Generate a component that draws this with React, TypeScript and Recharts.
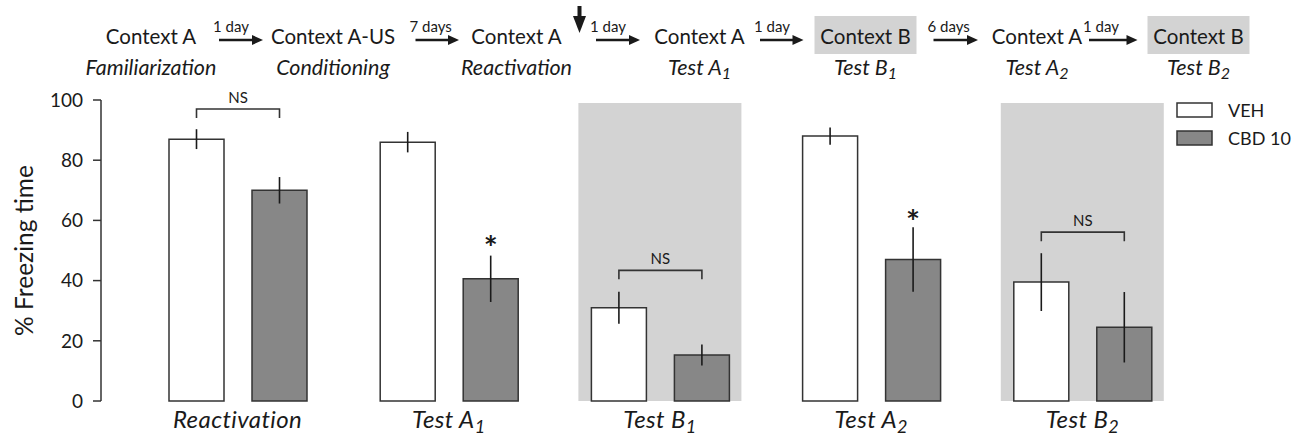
import React from 'react';
import { BarChart, Bar, XAxis, YAxis, ErrorBar, LabelList } from 'recharts';

// session tested after the reactivation
const sessions = ['Reactivation', 'Test A1', 'Test B1', 'Test A2', 'Test B2'];
const vehMeans = [87, 86, 31, 88, 39.5];
const vehErrors = [3.3, 3.4, 5.3, 2.9, 9.6];
const cbdMeans = [70, 40.6, 15.3, 47, 24.5];
const cbdErrors = [4.4, 7.7, 3.5, 10.7, 11.7];
// grey context-B panels (height in % units)
const contextBShade = [null, null, 99, null, 99];
// NS bracket level and asterisk level, in % units
const nsLevels = [97, null, 43.4, null, 56.1];
const starLevels = [null, 52.5, null, 61.2, null];
const yTicks = [0, 20, 40, 60, 80, 100];
const seriesNames = ['VEH', 'CBD 10'];

// protocol timeline above the chart
const timelineContexts = ['Context A', 'Context A-US', 'Context A', 'Context A', 'Context B', 'Context A', 'Context B'];
const timelinePhases = ['Familiarization', 'Conditioning', 'Reactivation', 'Test A1', 'Test B1', 'Test A2', 'Test B2'];
const timelineIntervals = ['1 day', '7 days', '1 day', '1 day', '6 days', '1 day'];

const rows = sessions.map((session, i) => ({
  session,
  veh: vehMeans[i],
  vehErr: vehErrors[i],
  cbd: cbdMeans[i],
  cbdErr: cbdErrors[i],
  shade: contextBShade[i],
  ns: nsLevels[i],
  star: starLevels[i],
}));

const FONT = 'Lato, "Open Sans", sans-serif';
const INK = '#1a1a1a';
const EDGE = '#333';
const CBD_FILL = '#878787';
const SHADE = '#d3d3d3';
const BAR = 55;
const GAP = 28;

// layout of the timeline (px)
const stageX = [151, 333, 516.5, 699.5, 865.5, 1037, 1198.5];
const arrowX = [
  [219, 263],
  [415.5, 459],
  [596, 640],
  [760, 803.5],
  [933.5, 978],
  [1089, 1137.5],
];
const reactivationMarkX = 579.5;

function withSub(label: string, subSize: number, drop: number) {
  const m = /^(.*?)(\d)$/.exec(label);
  if (!m) return label;
  return (
    <>
      {m[1]}
      <tspan dy={drop} fontSize={subSize}>{m[2]}</tspan>
    </>
  );
}

function SessionTick(props: any) {
  const { x, y, payload } = props;
  return (
    <text x={x} y={y + 19} textAnchor="middle" fontStyle="italic" fontSize={24} letterSpacing={0.4} fill={INK} fontFamily={FONT}>
      {withSub(payload.value, 18, 5)}
    </text>
  );
}

function pxPerUnit(vb: any, value: number) {
  return Math.abs(vb.height) / value;
}

function NsBracket(props: any) {
  const { index } = props;
  const vb = props.viewBox ?? props;
  const level = rows[index]?.ns;
  if (level == null) return null;
  const bottom = vb.y + vb.height;
  const yb = bottom - level * pxPerUnit(vb, rows[index].veh);
  const x1 = vb.x + vb.width / 2;
  const x2 = x1 + vb.width + GAP;
  return (
    <g>
      <path d={`M${x1},${yb + 9}V${yb}H${x2}V${yb + 9}`} fill="none" stroke={EDGE} strokeWidth={1.6} />
      <text x={(x1 + x2) / 2} y={yb - 6} textAnchor="middle" fontSize={15} fill={INK} fontFamily={FONT}>
        NS
      </text>
    </g>
  );
}

function Star(props: any) {
  const { index } = props;
  const vb = props.viewBox ?? props;
  const level = rows[index]?.star;
  if (level == null) return null;
  const bottom = vb.y + vb.height;
  const yc = bottom - level * pxPerUnit(vb, rows[index].cbd);
  return (
    <text x={vb.x + vb.width / 2} y={yc + 17} textAnchor="middle" fontSize={33} fontWeight={700} fill={INK} fontFamily={FONT}>
      *
    </text>
  );
}

function YLabel(props: any) {
  const vb = props.viewBox;
  const cy = vb.y + vb.height / 2;
  return (
    <text
      x={23}
      y={cy}
      transform={`rotate(-90, 23, ${cy})`}
      textAnchor="middle"
      dominantBaseline="central"
      fontSize={24.5}
      fill={INK}
      fontFamily={FONT}
    >
      % Freezing time
    </text>
  );
}

function Timeline() {
  return (
    <svg width={1306} height={90} style={{ position: 'absolute', left: 0, top: 0, pointerEvents: 'none' }}>
      {timelineContexts.map((ctx, i) => (
        <g key={i}>
          {ctx === 'Context B' && <rect x={stageX[i] - 51} y={16} width={102} height={38} fill={SHADE} />}
          <text x={stageX[i]} y={44} textAnchor="middle" fontSize={20.5} fill={INK} fontFamily={FONT}>
            {ctx}
          </text>
          <text x={stageX[i]} y={75} textAnchor="middle" fontSize={21.5} fontStyle="italic" fill={INK} fontFamily={FONT}>
            {withSub(timelinePhases[i], 16, 4)}
          </text>
        </g>
      ))}
      {timelineIntervals.map((gap, i) => {
        const [x1, x2] = arrowX[i];
        return (
          <g key={i}>
            <text x={x1 - 6} y={31.5} fontSize={15} fill={INK} fontFamily={FONT}>
              {gap}
            </text>
            <line x1={x1} y1={40} x2={x2 - 8} y2={40} stroke={INK} strokeWidth={2.6} />
            <polygon points={`${x2 - 11},35 ${x2},40 ${x2 - 11},45`} fill={INK} />
          </g>
        );
      })}
      <rect x={reactivationMarkX - 2} y={6} width={4} height={12} fill={INK} />
      <polygon points={`${reactivationMarkX - 6.5},16 ${reactivationMarkX + 6.5},16 ${reactivationMarkX},33`} fill={INK} />
    </svg>
  );
}

function SeriesLegend() {
  const fills = ['#ffffff', CBD_FILL];
  return (
    <svg width={130} height={60} style={{ position: 'absolute', left: 1170, top: 98, pointerEvents: 'none' }}>
      {seriesNames.map((name, i) => (
        <g key={name}>
          <rect x={7} y={5 + i * 28} width={35} height={14} fill={fills[i]} stroke={EDGE} strokeWidth={1.5} />
          <text x={58} y={19 + i * 28} fontSize={18} fill={INK} fontFamily={FONT}>
            {name}
          </text>
        </g>
      ))}
    </svg>
  );
}

export default function App() {
  return (
    <div style={{ position: 'absolute', left: 0, top: 0, width: 1306, height: 436, background: '#fff', fontFamily: FONT }}>
      <BarChart
        width={1306}
        height={436}
        data={rows}
        margin={{ top: 100, right: 118, bottom: 5, left: 0 }}
        barGap={GAP}
      >
        <XAxis
          xAxisId="main"
          dataKey="session"
          axisLine={false}
          tickLine={false}
          tickSize={6}
          height={30}
          padding={{ left: 31, right: 0 }}
          tick={<SessionTick />}
          interval={0}
        />
        <XAxis xAxisId="bg" dataKey="session" hide height={0} padding={{ left: 31, right: 0 }} />
        <YAxis
          domain={[0, 100]}
          ticks={yTicks}
          width={101}
          tickSize={8}
          tickMargin={10}
          stroke={EDGE}
          strokeWidth={1.5}
          tick={{ fontSize: 19, fill: INK, fontFamily: FONT }}
          label={<YLabel />}
        />
        <Bar xAxisId="bg" dataKey="shade" barSize={163} fill={SHADE} isAnimationActive={false} />
        <Bar xAxisId="main" dataKey="veh" name={seriesNames[0]} barSize={BAR} fill="#ffffff" stroke={EDGE} strokeWidth={1.5} isAnimationActive={false}>
          <ErrorBar dataKey="vehErr" width={0} stroke={INK} strokeWidth={1.6} />
          <LabelList dataKey="ns" content={<NsBracket />} />
        </Bar>
        <Bar xAxisId="main" dataKey="cbd" name={seriesNames[1]} barSize={BAR} fill={CBD_FILL} stroke={EDGE} strokeWidth={1.5} isAnimationActive={false}>
          <ErrorBar dataKey="cbdErr" width={0} stroke={INK} strokeWidth={1.6} />
          <LabelList dataKey="star" content={<Star />} />
        </Bar>
      </BarChart>
      <Timeline />
      <SeriesLegend />
    </div>
  );
}
